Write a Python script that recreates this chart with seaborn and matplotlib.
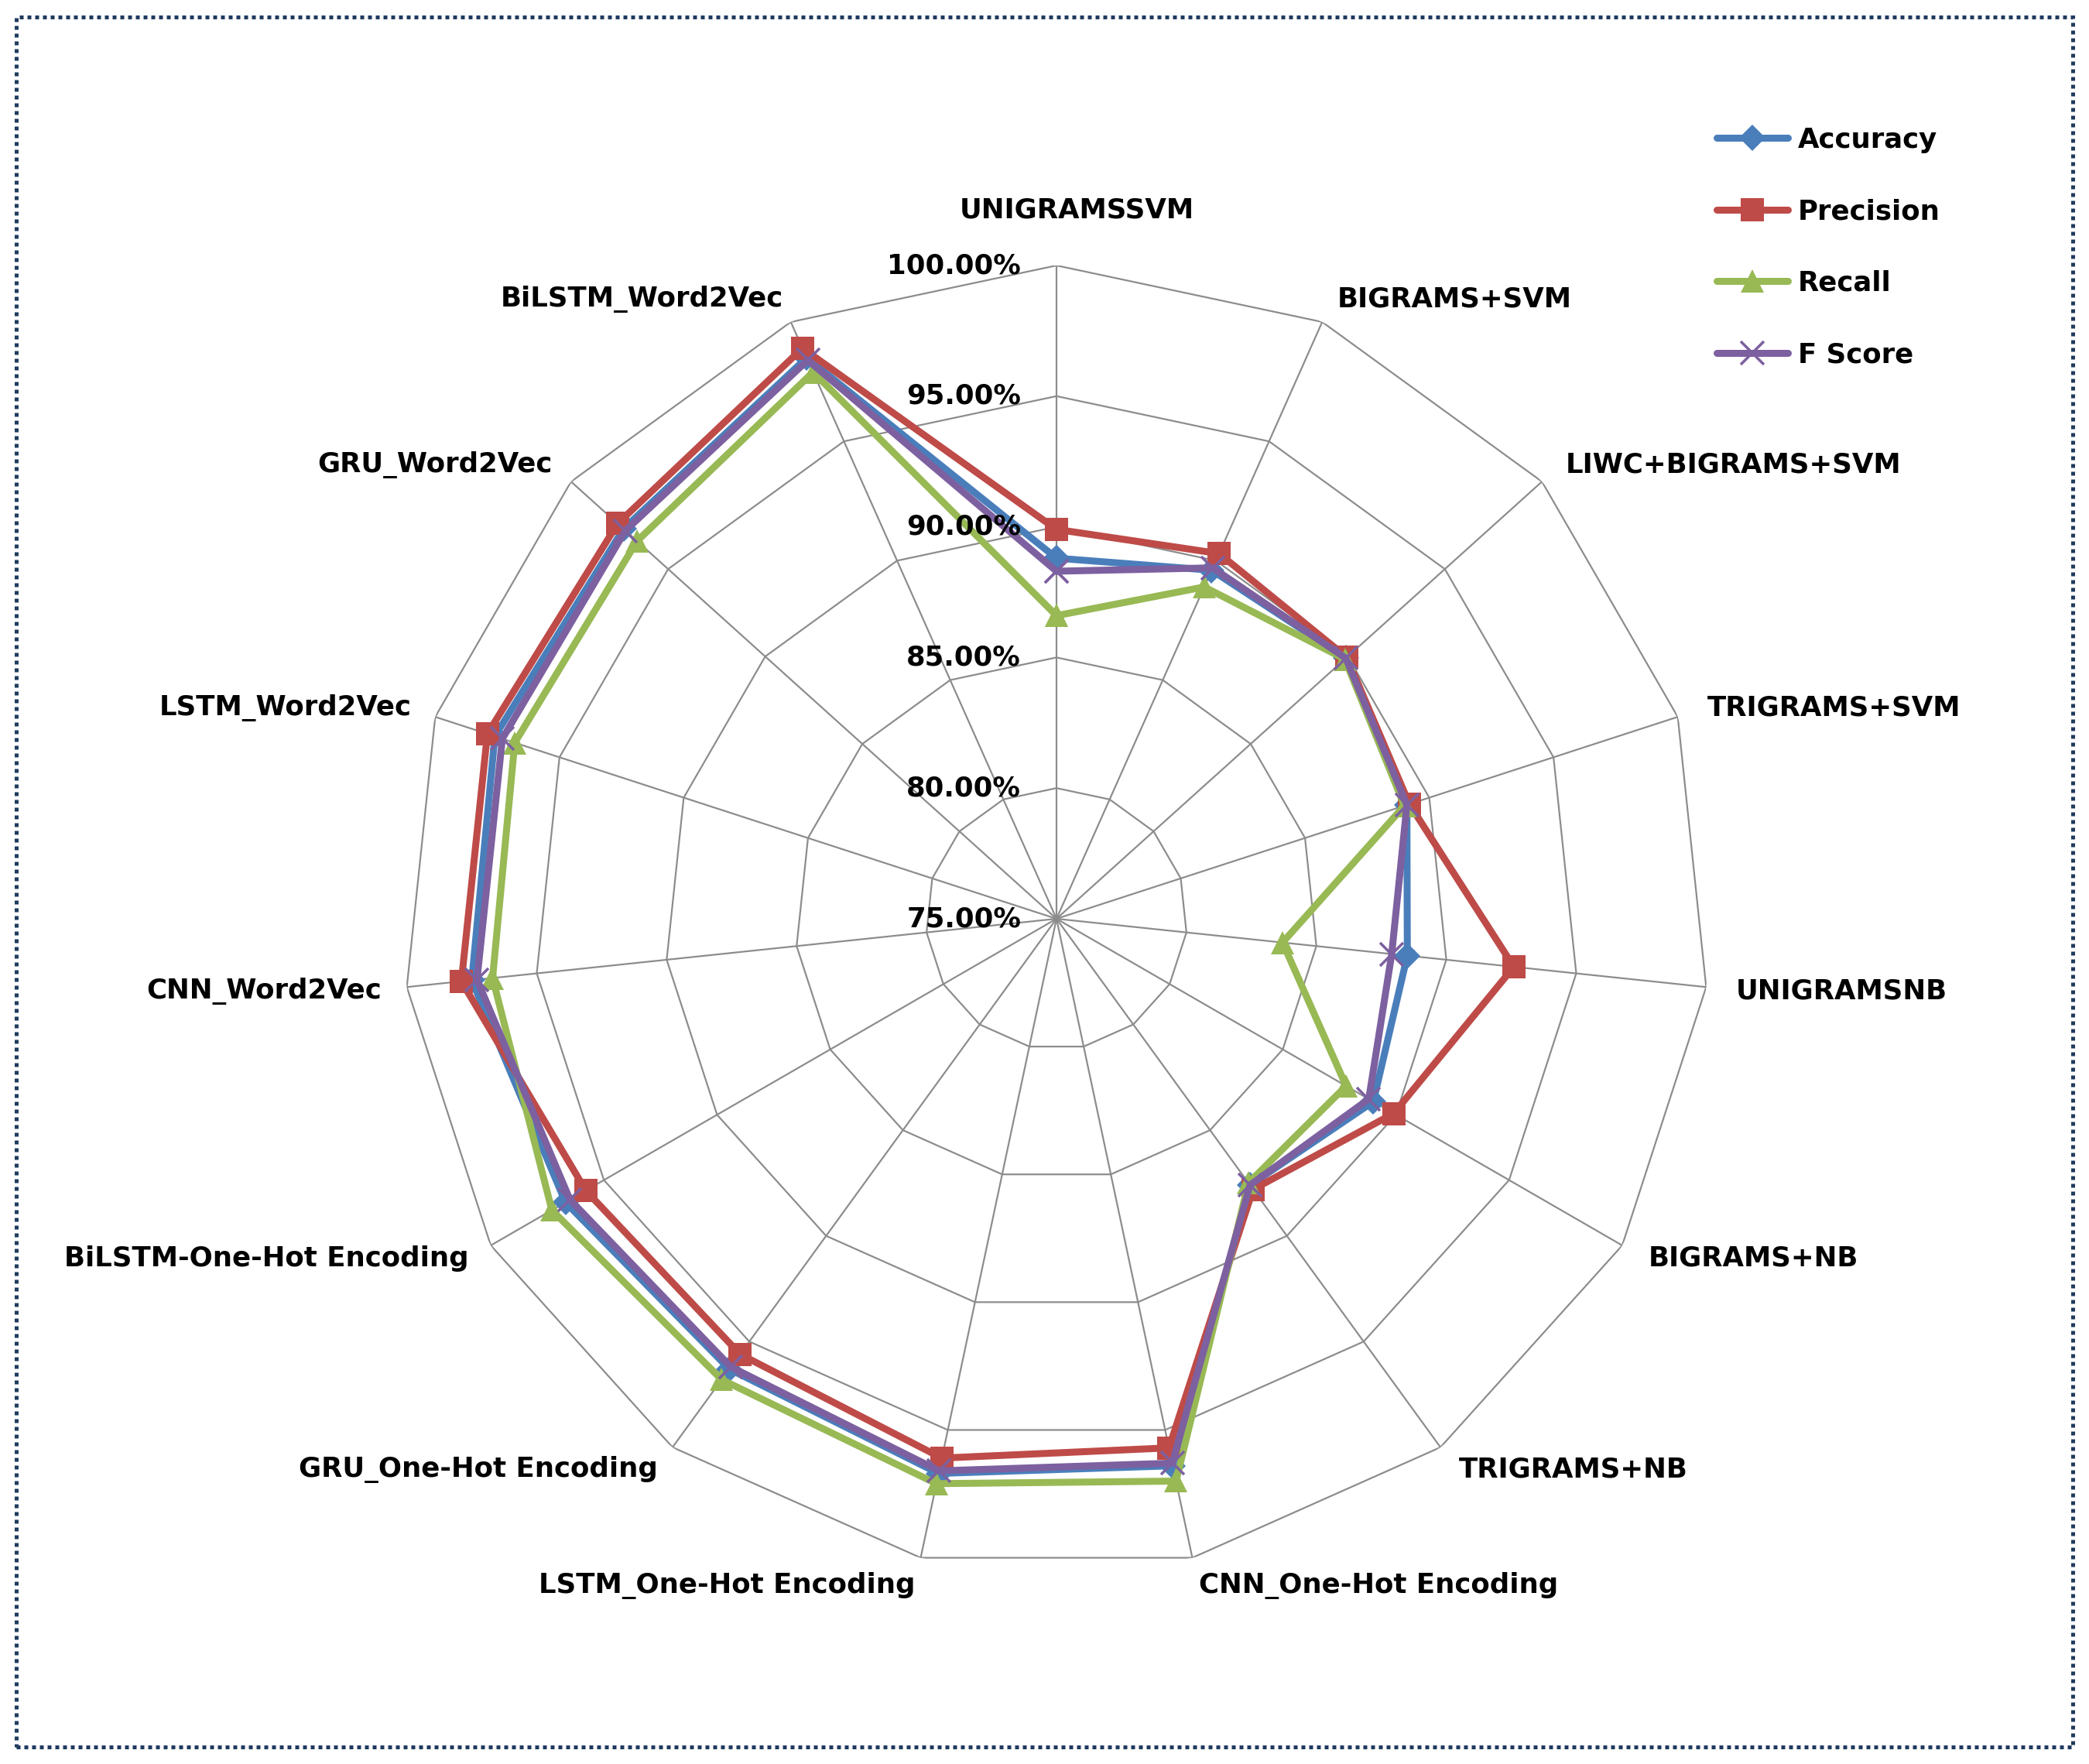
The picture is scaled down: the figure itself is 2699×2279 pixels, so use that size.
import numpy as np
import pandas as pd
import matplotlib
matplotlib.use("Agg")
import matplotlib.pyplot as plt
import seaborn as sns
from matplotlib.patches import Rectangle
from matplotlib.lines import Line2D

# ---------------- data ----------------
categories = ["UNIGRAMSSVM", "BIGRAMS+SVM", "LIWC+BIGRAMS+SVM", "TRIGRAMS+SVM",
              "UNIGRAMSNB", "BIGRAMS+NB", "TRIGRAMS+NB", "CNN_One-Hot Encoding",
              "LSTM_One-Hot Encoding", "GRU_One-Hot Encoding", "BiLSTM-One-Hot Encoding",
              "CNN_Word2Vec", "LSTM_Word2Vec", "GRU_Word2Vec", "BiLSTM_Word2Vec"]
accuracy  = [88.8, 89.6, 89.9, 89.1, 88.5, 89.0, 87.6, 96.4, 96.7, 96.3, 96.7, 97.5, 97.6, 97.3, 98.5]
precision = [89.9, 90.3, 89.95, 89.2, 92.6, 89.9, 87.8, 95.7, 96.1, 95.6, 95.8, 97.9, 97.9, 97.6, 98.9]
recall    = [86.6, 88.9, 89.85, 89.0, 83.7, 87.8, 87.5, 97.0, 97.1, 96.8, 97.3, 96.7, 96.8, 96.6, 97.9]
fscore    = [88.3, 89.7, 89.9, 89.1, 87.9, 88.8, 87.6, 96.3, 96.6, 96.2, 96.5, 97.3, 97.3, 97.2, 98.4]
series_names = ["Accuracy", "Precision", "Recall", "F Score"]
r_levels = [75, 80, 85, 90, 95, 100]
r_labels = ["75.00%", "80.00%", "85.00%", "90.00%", "95.00%", "100.00%"]

# ---------------- style ----------------
colors = {"Accuracy": "#4A7EBB", "Precision": "#BE4B48", "Recall": "#98B954", "F Score": "#7D60A0"}
markers = {"Accuracy": "D", "Precision": "s", "Recall": "^", "F Score": "x"}
msizes = {"Accuracy": 24, "Precision": 30, "Recall": 30, "F Score": 30}
# label offsets (pixels) from each outer vertex, and horizontal alignment
label_offsets = [(26, -72), (19, -29), (31, -22), (38, -12), (38, 5), (34, 17), (24, 29),
                 (9, 36), (-7, 36), (-19, 29), (-28, 17), (-33, 5), (-31, -12), (-24, -22), (-10, -29)]
label_ha = ["center", "left", "left", "left", "left", "left", "left", "left",
            "right", "right", "right", "right", "right", "right", "right"]

DPI = 72
W, H = 2699, 2279
sns.set_theme(style="white")
plt.rcParams["font.family"] = ["DejaVu Sans"]
plt.rcParams["text.color"] = "black"
FS = 35.5

fig = plt.figure(figsize=(W / DPI, H / DPI), dpi=DPI)
fig.patch.set_facecolor("white")

cx, cy, R = 1365, 1187, 844
ax = fig.add_axes([(cx - R) / W, (H - cy - R) / H, 2 * R / W, 2 * R / H], projection="polar")
ax.set_theta_offset(np.pi / 2)
ax.set_theta_direction(-1)
ax.set_ylim(75, 100)
ax.grid(False)
ax.spines["polar"].set_visible(False)
ax.set_xticks([])
ax.set_yticks([])
ax.patch.set_alpha(0)

n = len(categories)
angles = np.linspace(0, 2 * np.pi, n, endpoint=False)
closed = np.concatenate([angles, [angles[0] + 2 * np.pi]])

grid_col = "#8C8C8C"
for lv in r_levels[1:]:
    ax.plot(closed, [lv] * (n + 1), color=grid_col, lw=2.2, zorder=1)
for a in angles:
    ax.plot([a, a], [75, 100], color=grid_col, lw=2.2, zorder=1)

# data series
data = {"Accuracy": accuracy, "Precision": precision, "Recall": recall, "F Score": fscore}
for i, name in enumerate(series_names):
    vals = list(data[name]) + [data[name][0]]
    df = pd.DataFrame({"theta": closed, "value": vals})
    kw = dict(markeredgewidth=3.5) if markers[name] == "x" else dict(markeredgewidth=0)
    sns.lineplot(data=df, x="theta", y="value", ax=ax, sort=False, estimator=None,
                 color=colors[name], lw=9, marker=markers[name], markersize=msizes[name],
                 markerfacecolor=colors[name], markeredgecolor=colors[name],
                 legend=False, zorder=3 + i, **kw)
ax.set_xlabel("")
ax.set_ylabel("")
ax.set_xticks([])
ax.set_yticks([])
ax.set_ylim(75, 100)

# radial tick labels
for lv, lab in zip(r_levels, r_labels):
    ax.annotate(lab, xy=(0, lv), xytext=(-46, 0), textcoords="offset points",
                ha="right", va="center", fontsize=FS, fontweight="bold", color="black",
                annotation_clip=False, zorder=10)

# category labels
for a, lab, off, ha in zip(angles, categories, label_offsets, label_ha):
    ax.annotate(lab, xy=(a, 100), xytext=(off[0], -off[1]), textcoords="offset points",
                ha=ha, va="center", fontsize=FS, fontweight="bold", color="black",
                annotation_clip=False)

# legend
handles = [Line2D([0], [0], color=colors[s], lw=9, marker=markers[s], markersize=msizes[s],
                  markerfacecolor=colors[s], markeredgecolor=colors[s],
                  markeredgewidth=(3.5 if markers[s] == "x" else 0)) for s in series_names]
leg = fig.legend(handles, series_names, loc="upper left",
                 bbox_to_anchor=(2200 / W, 1 - 146 / H), frameon=False,
                 prop={"size": FS, "weight": "bold"}, handlelength=2.6,
                 handletextpad=0.36, labelspacing=1.65, borderpad=0, labelcolor="black")

# dotted border
fig.patches.append(Rectangle((21 / W, 22 / H), (2678 - 21) / W, (2257 - 22) / H,
                             transform=fig.transFigure, fill=False, edgecolor="#1F3B5E",
                             lw=5, linestyle=(0, (1, 1)), zorder=0))

fig.savefig("out.png", dpi=DPI, facecolor="white")
